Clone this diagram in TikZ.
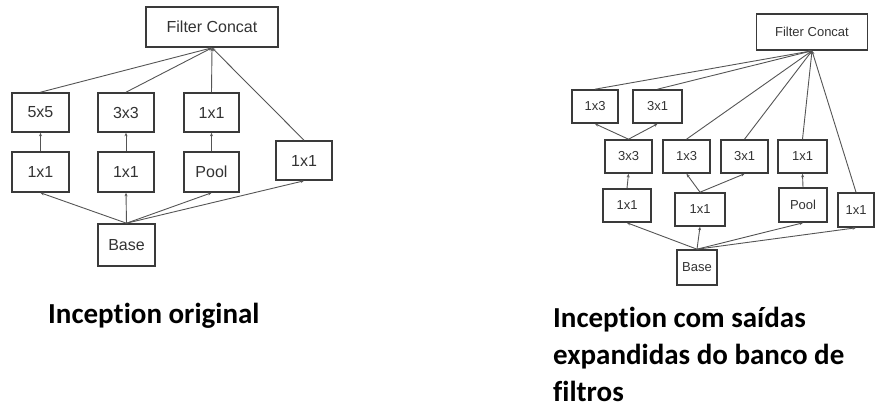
\documentclass[tikz,border=0pt]{standalone}
\usepackage{fontspec}
\setmainfont{Liberation Sans}
\newfontfamily\capfont[Ligatures=NoCommon]{Carlito}
\usetikzlibrary{arrows.meta}
\definecolor{boxline}{HTML}{3A3A3A}
\definecolor{wire}{HTML}{555555}
\definecolor{ink}{HTML}{333333}
\begin{document}
\begin{tikzpicture}[x=1pt,y=-1pt,
  blk/.style={draw=boxline,line width=1.6pt,inner sep=0pt,text=ink,fill=white},
  bigblk/.style={blk,font=\fontsize{16}{18}\selectfont},
  smallblk/.style={blk,font=\fontsize{13}{15}\selectfont},
  link/.style={draw=wire,line width=0.9pt,-{Stealth[length=3.5pt,width=3pt]}},
  caption/.style={font=\capfont\bfseries\fontsize{29}{37}\selectfont,anchor=base west,inner sep=0pt}]
\useasboundingbox (0,0) rectangle (875,407);

% ---- original module ----
\node[bigblk,minimum width=132pt,minimum height=40pt] (fc) at (212,27) {Filter Concat};
\node[bigblk,minimum width=57pt,minimum height=39pt] (a5) at (40.5,112.5) {5x5};
\node[bigblk,minimum width=56pt,minimum height=39pt] (a3) at (126,112.5) {3x3};
\node[bigblk,minimum width=55pt,minimum height=39pt] (a1) at (211.5,112.5) {1x1};
\node[bigblk,minimum width=57pt,minimum height=40pt] (b1) at (40.5,172) {1x1};
\node[bigblk,minimum width=56pt,minimum height=40pt] (b2) at (126,172) {1x1};
\node[bigblk,minimum width=55pt,minimum height=40pt] (pool) at (211.5,172) {Pool};
\node[bigblk,minimum width=56pt,minimum height=39pt] (r1) at (304,160.5) {1x1};
\node[bigblk,minimum width=57pt,minimum height=42pt] (base) at (126.5,245) {Base};

\foreach \n in {b1,b2,pool,r1} \draw[link] (base.north) -- (\n.south);
\draw[link] (b1.north) -- (a5.south);
\draw[link] (b2.north) -- (a3.south);
\draw[link] (pool.north) -- (a1.south);
\foreach \n in {a5,a3,a1,r1} \draw[link] (\n.north) -- (fc.south);

% ---- module with expanded filter bank outputs ----
\node[smallblk,minimum width=111pt,minimum height=36pt] (fcx) at (812,32) {Filter Concat};
\node[smallblk,minimum width=46pt,minimum height=33pt] (t13) at (595,106.5) {1x3};
\node[smallblk,minimum width=49pt,minimum height=33pt] (t31) at (657.5,106.5) {3x1};
\node[smallblk,minimum width=47pt,minimum height=33pt] (c33) at (628.5,156.5) {3x3};
\node[smallblk,minimum width=47pt,minimum height=33pt] (m13) at (686.5,156.5) {1x3};
\node[smallblk,minimum width=47pt,minimum height=33pt] (m31) at (744.5,156.5) {3x1};
\node[smallblk,minimum width=49pt,minimum height=33pt] (m11) at (802.5,156.5) {1x1};
\node[smallblk,minimum width=48pt,minimum height=33pt] (l11) at (627,205.5) {1x1};
\node[smallblk,minimum width=50pt,minimum height=33pt] (lm11) at (700,209.5) {1x1};
\node[smallblk,minimum width=48pt,minimum height=34pt] (poolx) at (803,205) {Pool};
\node[smallblk,minimum width=36pt,minimum height=34pt] (r11) at (856,210) {1x1};
\node[smallblk,minimum width=40pt,minimum height=35pt] (basex) at (697,267.5) {Base};

\foreach \n in {l11,lm11,poolx,r11} \draw[link] (basex.north) -- (\n.south);
\draw[link] (l11.north) -- (c33.south);
\draw[link] (c33.north) -- (t13.south);
\draw[link] (c33.north) -- (t31.south);
\draw[link] (lm11.north) -- (m13.south);
\draw[link] (lm11.north) -- (m31.south);
\draw[link] (poolx.north) -- (m11.south);
\foreach \n in {t13,t31,m13,m31,m11,r11} \draw[link] (\n.north) -- (fcx.south);

% ---- captions ----
\node[caption] (capa) at (48,323) {Inception original};
\node[caption] (capb1) at (553,327) {Inception com saídas};
\node[caption] (capb2) at (553,364) {expandidas do banco de};
\node[caption] (capb3) at (553,401) {filtros};
\end{tikzpicture}
\end{document}
